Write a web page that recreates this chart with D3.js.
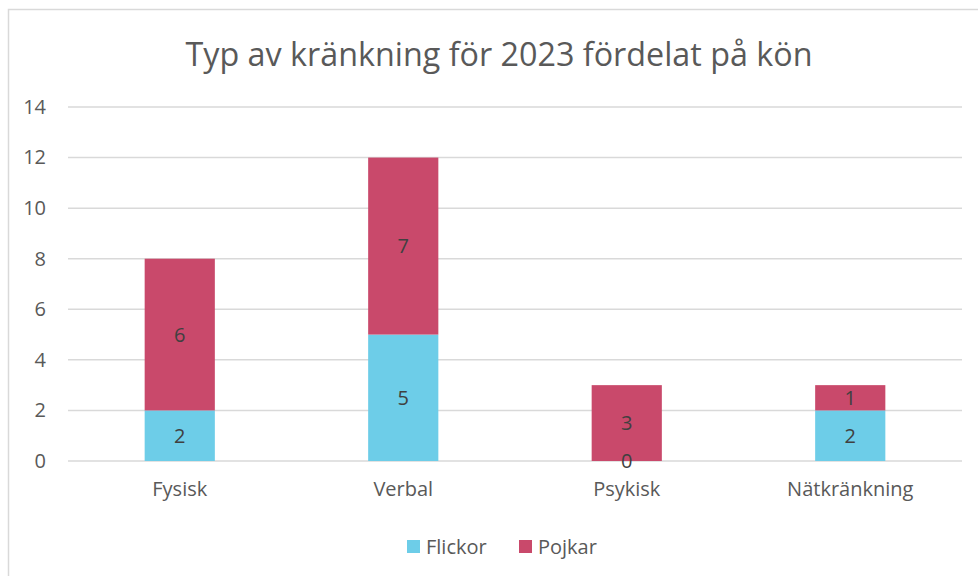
<!DOCTYPE html>
<html>
<head>
<meta charset="utf-8">
<script src="https://cdn.jsdelivr.net/npm/d3@7"></script>
<style>
  body { margin: 0; background: #fff; }
  text { font-family: "Open Sans", sans-serif; }
</style>
</head>
<body>
<div id="chart"></div>
<script>
const width = 978
const height = 576
const margin = {top: 107, left: 68, right: 16, bottom: 115}

// data
const categories = ["Fysisk", "Verbal", "Psykisk", "Nätkränkning"]
const flickor = [2, 5, 0, 2]
const pojkar = [6, 7, 3, 1]
const seriesNames = ["Flickor", "Pojkar"]
const colors = ["#6dcde8", "#c9496b"]
const yTicks = [0, 2, 4, 6, 8, 10, 12, 14]

const svg = d3.select("#chart").append("svg").attr("width", width).attr("height", height)

// ram
svg.append("rect")
    .attr("x", 8.5).attr("y", 9.5)
    .attr("width", width + 20).attr("height", height + 20)
    .attr("fill", "none").attr("stroke", "#d9d9d9").attr("stroke-width", 1.5)

svg.append("text")
    .attr("x", 499).attr("y", 66)
    .attr("text-anchor", "middle")
    .attr("font-size", 32.3)
    .attr("fill", "#595959")
    .text("Typ av kränkning för 2023 fördelat på kön")

const innerW = width - margin.left - margin.right
const innerH = height - margin.top - margin.bottom

const x = d3.scaleBand().domain(categories).range([0, innerW]).paddingInner(0.686).paddingOuter(0.343)
const y = d3.scaleLinear().domain([0, 14]).range([innerH, 0])

const g = svg.append("g").attr("transform", `translate(${margin.left},${margin.top})`)

// rutnät
g.selectAll(".grid").data(yTicks).enter().append("line")
    .attr("x1", 0).attr("x2", innerW)
    .attr("y1", d => y(d)).attr("y2", d => y(d))
    .attr("stroke", "#d9d9d9").attr("stroke-width", 1.5)

const yAxis = d3.axisLeft(y).tickValues(yTicks).tickSize(0).tickPadding(22)
const yAxisGroup = g.append("g").call(yAxis)
yAxisGroup.select(".domain").remove()
yAxisGroup.selectAll("text").attr("font-size", 20).attr("fill", "#595959").attr("font-family", "Open Sans, sans-serif")

const xAxis = d3.axisBottom(x).tickSize(0).tickPadding(21)
const xAxisGroup = g.append("g").attr("transform", `translate(0,${innerH})`).call(xAxis)
xAxisGroup.select(".domain").remove()
xAxisGroup.selectAll("text").attr("font-size", 20).attr("fill", "#595959").attr("font-family", "Open Sans, sans-serif")

// staplade data
const rows = categories.map((c, i) => ({cat: c, Flickor: flickor[i], Pojkar: pojkar[i]}))
const stacked = d3.stack().keys(seriesNames)(rows)

const layers = g.selectAll(".layer").data(stacked).enter().append("g")
    .attr("fill", (d, i) => colors[i])

layers.selectAll("rect").data(d => d).enter().append("rect")
    .attr("x", d => x(d.data.cat))
    .attr("width", x.bandwidth())
    .attr("y", d => y(d[1]))
    .attr("height", d => y(d[0]) - y(d[1]))

// etiketter, ovanpå alla staplar
const labels = stacked.flatMap(s => s.map(v => ({v: v, key: s.key})))
g.append("g").selectAll("text").data(labels).enter().append("text")
    .attr("x", d => x(d.v.data.cat) + x.bandwidth() / 2)
    .attr("y", d => (y(d.v[0]) + y(d.v[1])) / 2)
    .attr("dy", "0.35em")
    .attr("text-anchor", "middle")
    .attr("font-size", 20)
    .attr("fill", "#404040")
    .text(d => d.v.data[d.key])

// förklaring
const legend = svg.append("g").attr("transform", "translate(407,547)")
const legX = [0, 112]
seriesNames.forEach((s, i) => {
    legend.append("rect").attr("x", legX[i]).attr("y", -7).attr("width", 13).attr("height", 13).attr("fill", colors[i])
    legend.append("text").attr("x", legX[i] + 19).attr("y", 0).attr("dy", "0.35em")
        .attr("font-size", 20).attr("fill", "#595959").text(s)
})
</script>
</body>
</html>
